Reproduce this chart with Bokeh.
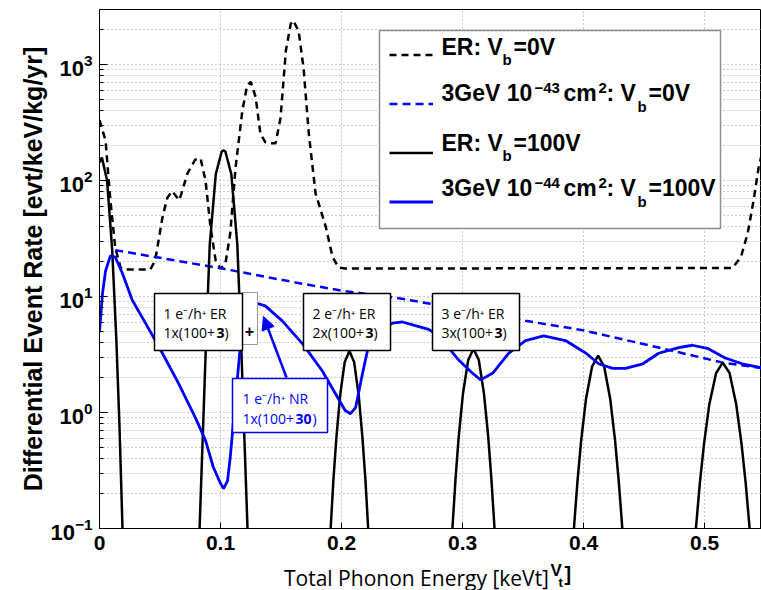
import math
from bokeh.plotting import figure
from bokeh.layouts import column
from bokeh.models import (Range1d, FixedTicker, Label, BoxAnnotation, Arrow, NormalHead,
                          Legend, LegendItem, CustomJSTickFormatter, LogTickFormatter)
from bokeh.embed import file_html
from bokeh.resources import INLINE

# ---------------- data ----------------
# ER, Vb = 0V (black dashed)
er0_x = [0.0, 0.005, 0.009, 0.013, 0.0174, 0.020, 0.042, 0.046, 0.052, 0.056, 0.060, 0.066,
         0.0727, 0.079, 0.0835, 0.0876, 0.0917, 0.096, 0.100, 0.104, 0.108, 0.1124, 0.118,
         0.122, 0.125, 0.129, 0.133, 0.137, 0.141, 0.1455, 0.1496, 0.154, 0.158, 0.160,
         0.1645, 0.1686, 0.173, 0.1785, 0.187, 0.1926, 0.1975, 0.203, 0.523, 0.530, 0.5355,
         0.5405, 0.5446, 0.549]
er0_y = [331, 221, 67.6, 26.3, 17.8, 17.1, 17.1, 20.4, 47.9, 70.8, 81.0, 67.6,
         115, 151, 155, 100, 39.8, 20.4, 17.4, 19.1, 34.7, 129, 398,
         661, 708, 525, 251, 214, 209, 209, 347, 1318, 2239, 2399,
         1950, 933, 251, 77.6, 39.8, 21.9, 17.8, 17.4, 17.6, 21.9, 34.7,
         67.6, 129, 200]

# 3GeV 1e-43 cm2, Vb = 0V (blue dashed)
w0_x = [0.013, 0.046, 0.1017, 0.162, 0.2008, 0.2446, 0.272, 0.352, 0.399, 0.462, 0.515, 0.549]
w0_y = [25.1, 21.9, 17.4, 13.2, 11.2, 9.77, 8.71, 6.17, 5.13, 3.63, 2.69, 2.4]

# ER, Vb = 100V (black solid, peaks at n e-/h+ pairs)
er100_x = [0.0, 0.002, 0.00625, 0.0105, 0.0139, 0.0165, 0.019, 0.0207,
           0.0807, 0.0827, 0.0857, 0.0882, 0.0911, 0.0961, 0.1010, 0.1025, 0.1040, 0.1089,
           0.1139, 0.1168, 0.1193, 0.1223, 0.1243,
           0.1894, 0.191, 0.1933, 0.1957, 0.1988, 0.2026, 0.2065, 0.2104, 0.2142, 0.2173,
           0.2197, 0.222, 0.2236,
           0.2899, 0.2916, 0.2942, 0.2968, 0.3003, 0.3047, 0.309, 0.3134, 0.3177, 0.3212,
           0.3238, 0.3264, 0.3281,
           0.390, 0.392, 0.395, 0.398, 0.402, 0.407, 0.412, 0.417, 0.422, 0.426, 0.429,
           0.432, 0.434,
           0.4906, 0.4928, 0.4961, 0.4995, 0.5039, 0.5095, 0.515, 0.5206, 0.5261, 0.5305,
           0.5339, 0.5372, 0.5394]
er100_y = [143, 158, 100, 25.1, 4.29, 0.773, 0.1, 0.0214,
           0.0207, 0.1, 0.804, 4.6, 27.9, 113.8, 178, 182, 178, 113.8,
           27.9, 4.6, 0.804, 0.1, 0.0207,
           0.048, 0.1, 0.266, 0.60, 1.40, 2.72, 3.39, 2.72, 1.40, 0.60,
           0.266, 0.1, 0.048,
           0.047, 0.1, 0.269, 0.617, 1.45, 2.84, 3.55, 2.84, 1.45, 0.617,
           0.269, 0.1, 0.047,
           0.049, 0.1, 0.259, 0.575, 1.31, 2.49, 3.09, 2.49, 1.31, 0.575,
           0.259, 0.1, 0.049,
           0.050, 0.1, 0.249, 0.536, 1.18, 2.19, 2.69, 2.19, 1.18, 0.536,
           0.249, 0.1, 0.050]

# 3GeV 1e-44 cm2, Vb = 100V (blue solid)
w100_x = [0.0, 0.0025, 0.005, 0.009, 0.013, 0.019, 0.027, 0.038, 0.052, 0.0653, 0.079,
          0.0876, 0.094, 0.100, 0.1025, 0.1058, 0.108, 0.111, 0.114, 0.1165, 0.120, 0.124,
          0.128, 0.1306, 0.137, 0.151, 0.168, 0.184, 0.195, 0.203, 0.2074, 0.2116, 0.2174,
          0.222, 0.2306, 0.242, 0.2504, 0.261, 0.272, 0.280, 0.286, 0.297, 0.308, 0.315,
          0.325, 0.338, 0.352, 0.367, 0.385, 0.402, 0.4124, 0.424, 0.4347, 0.449, 0.462,
          0.4785, 0.490, 0.503, 0.517, 0.531, 0.549]
w100_y = [4.9, 10.7, 16.6, 22.4, 21.9, 15.8, 9.33, 5.89, 3.24, 1.78, 0.912,
          0.575, 0.339, 0.245, 0.221, 0.257, 0.407, 0.912, 2.0, 3.89, 6.0, 7.9,
          8.9, 8.7, 8.3, 6.17, 3.89, 2.29, 1.45, 1.04, 0.977, 1.10, 2.19,
          3.63, 5.13, 5.89, 6.03, 5.6, 5.2, 4.6, 3.89, 2.82, 2.19, 1.91,
          2.19, 3.24, 4.17, 4.57, 4.17, 3.24, 2.63, 2.40, 2.40, 2.63, 3.24,
          3.63, 3.80, 3.55, 2.95, 2.63, 2.4]

x_ticks = [0, 0.1, 0.2, 0.3, 0.4, 0.5]
y_ticks = [0.1, 1, 10, 100, 1000]

# ---------------- layout helpers (canvas px -> data) ----------------
W = 761
FL, FT, FB, FR = 99, 9, 528, 761
MAIN_H = 562
X_END = 0.547


def sx(px):
    return (px - FL) / (FR - FL) * X_END


def sy(py):
    return 10 ** (3 - (py - 64) / 116.0)


Y_END = sy(FT)

p = figure(width=W, height=MAIN_H, x_range=Range1d(0, X_END), y_range=Range1d(0.1, Y_END),
           y_axis_type="log", output_backend="svg", toolbar_location=None,
           min_border_left=FL, min_border_right=0, min_border_top=FT,
           min_border_bottom=MAIN_H - FB)
p.background_fill_color = "white"
p.border_fill_color = "white"
p.outline_line_color = "black"
p.outline_line_width = 1

# x axis
p.xaxis.ticker = FixedTicker(ticks=x_ticks)
p.xaxis.formatter = CustomJSTickFormatter(code="return tick == 0 ? '0' : tick.toFixed(1);")
p.xaxis.major_label_text_font = "Liberation Sans"
p.xaxis.major_label_text_font_style = "bold"
p.xaxis.major_label_text_font_size = "21px"
p.xaxis.major_label_text_color = "black"
p.xaxis.major_tick_in = 6
p.xaxis.major_tick_out = 0
p.xaxis.minor_tick_line_color = None
p.xaxis.major_label_standoff = 7
p.xaxis.axis_line_color = "black"

# y axis
minors = [m * 10 ** e for e in range(-1, 4) for m in range(2, 10) if m * 10 ** e < Y_END]
yt = FixedTicker(ticks=y_ticks, minor_ticks=minors)
p.yaxis.ticker = yt
p.yaxis.formatter = LogTickFormatter()
p.yaxis.major_label_text_font = "Liberation Sans"
p.yaxis.major_label_text_font_style = "bold"
p.yaxis.major_label_text_font_size = "22px"
p.yaxis.major_label_text_color = "black"
p.yaxis.major_label_standoff = 7
p.yaxis.major_tick_in = 8
p.yaxis.major_tick_out = 0
p.yaxis.minor_tick_in = 4
p.yaxis.minor_tick_out = 0
p.yaxis.axis_line_color = "black"
p.yaxis.axis_label = "Differential Event Rate [evt/keV/kg/yr]"
p.yaxis.axis_label_text_font = "Liberation Sans"
p.yaxis.axis_label_text_font_style = "bold"
p.yaxis.axis_label_text_font_size = "25px"
p.yaxis.axis_label_text_color = "black"
p.yaxis.axis_label_standoff = 0

p.ygrid.ticker = yt
p.ygrid.grid_line_color = "#9a9a9a"
p.ygrid.grid_line_dash = "1 3"
p.ygrid.minor_grid_line_color = "#9a9a9a"
p.ygrid.minor_grid_line_dash = "1 3"
p.xgrid.ticker = FixedTicker(ticks=x_ticks[1:])
p.xgrid.grid_line_color = "#9a9a9a"
p.xgrid.grid_line_dash = "1 3"

# curves
BLUE = "#0000ff"
r_er0 = p.line(er0_x, er0_y, line_color="black", line_width=2.5, line_dash="7 5")
r_w0 = p.line(w0_x, w0_y, line_color=BLUE, line_width=2.5, line_dash="8 5")
r_er100 = p.line(er100_x, er100_y, line_color="black", line_width=2.5)
r_w100 = p.line(w100_x, w100_y, line_color=BLUE, line_width=2.8)


def lab(text, px, py, size, font="Liberation Sans", style="bold", color="black",
        align="left", angle=0.0, fig=None):
    # px, py: canvas pixel position of the text's left (or centre) and vertical middle
    if fig is None:
        fig, x, y = p, sx(px), sy(py)
    else:
        x, y = px, py - MAIN_H
    fig.add_layout(Label(x=x, y=y, text=text, text_font=font,
                         text_font_size=f"{size}px", text_font_style=style,
                         text_color=color, text_align=align, text_baseline="middle",
                         angle=angle))


def box(l, t, r, b, color="black", width=1.5):
    p.add_layout(BoxAnnotation(left=sx(l), right=sx(r), top=sy(t), bottom=sy(b),
                               fill_color="white", fill_alpha=1.0, line_color=color,
                               line_width=width, line_alpha=1.0))


# ---------------- legend ----------------
box(379, 30, 720, 228, color="#8c8c8c", width=1.5)
leg = Legend(items=[LegendItem(label=" ", renderers=[r]) for r in (r_er0, r_w0, r_er100, r_w100)],
             location=(389 - FL, FB - 226))
leg.padding = 0
leg.margin = 0
leg.spacing = 0
leg.glyph_width = 44
leg.glyph_height = 49
leg.label_height = 49
leg.label_width = 4
leg.label_standoff = 0
leg.border_line_color = None
leg.background_fill_alpha = 0
leg.label_text_font_size = "2px"
p.add_layout(leg)

MS, SS = 23, 15
for c, tail in ((46, "=0V"), (142, "=100V")):
    lab("ER: V", 441, c, MS)
    lab("b", 502, c + 13, SS)
    lab(tail, 513, c, MS)
for c, ex, tail in ((92, "\u221243", "=0V"), (187, "\u221244", "=100V")):
    lab("3GeV 10", 441, c, MS)
    lab(ex, 534, c - 5, SS)
    lab("cm", 563, c, MS)
    lab("2", 598, c - 5, SS)
    lab(": V", 606, c, MS)
    lab("b", 637, c + 14, SS)
    lab(tail, 648, c, MS)

# ---------------- annotation boxes ----------------
box(242, 292, 257, 344, color="#999999", width=1)
lab("+", 249, 330, 16, align="center")
for (l, r, n) in ((154, 242, "1"), (303, 390, "2"), (432, 519, "3")):
    box(l, 293, r, 350)
    tx = l + 9
    lab(n + " e\u207b/h\u207a ER", tx, 313, 14, font="Open Sans", style="normal")
    lab(n + "x(100+", tx, 332, 14, font="Open Sans", style="normal")
    lab("3", tx + 53, 332, 14, font="Open Sans", style="bold")
    lab(")", tx + 61, 332, 14, font="Open Sans", style="normal")

box(232, 378, 327, 432, color=BLUE, width=1.5)
lab("1 e\u207b/h\u207a NR", 242, 398, 14, font="Open Sans", style="normal", color=BLUE)
lab("1x(100+", 242, 418, 14, font="Open Sans", style="normal", color=BLUE)
lab("30", 295, 418, 14, font="Open Sans", style="bold", color=BLUE)
lab(")", 312, 418, 14, font="Open Sans", style="normal", color=BLUE)

p.add_layout(Arrow(end=NormalHead(size=13, fill_color=BLUE, line_color=BLUE),
                   x_start=sx(286), y_start=sy(377), x_end=sx(263), y_end=sy(316),
                   line_color=BLUE, line_width=2.5))

# ---------------- x axis title strip (its frame lines up with the main frame) ----------------
LH = 590 - MAIN_H
q = figure(width=W, height=LH, x_range=Range1d(FL, W), y_range=Range1d(LH, 0),
           output_backend="svg", toolbar_location=None, x_axis_location=None,
           y_axis_location=None, min_border=0)
q.outline_line_color = None
q.grid.visible = False
q.background_fill_color = "white"
q.border_fill_color = "white"
lab("Total Phonon Energy [keVt]", 416, 577, 21, font="Open Sans", style="normal",
    align="center", fig=q)
lab("V", 550, 570, 17, fig=q)
lab("t", 558, 582, 13, fig=q)
lab("]", 564, 573, 20, fig=q)

layout = column(p, q, spacing=0)
open("out.html", "w").write(file_html(layout, INLINE))
